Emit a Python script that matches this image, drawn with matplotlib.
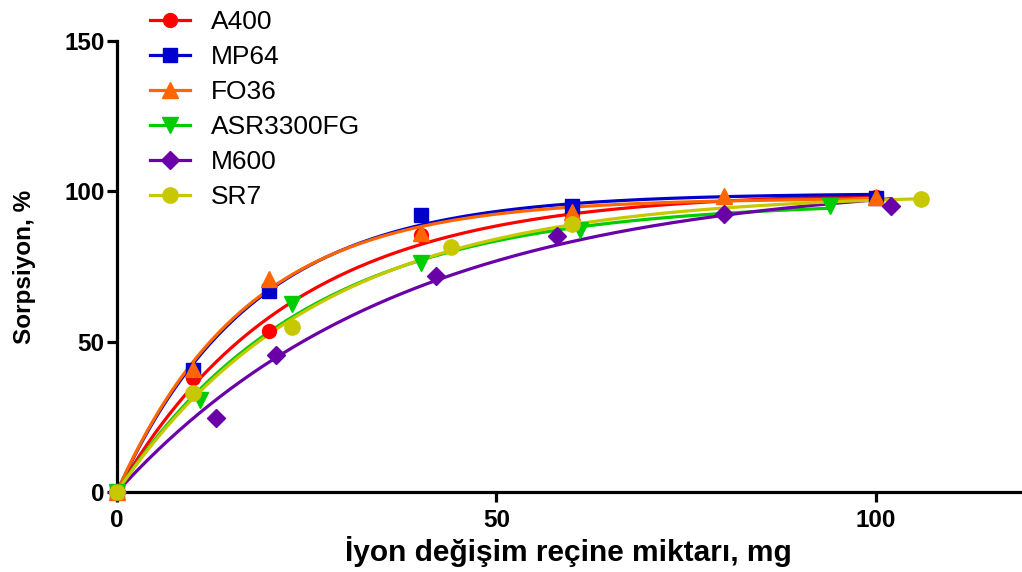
import numpy as np
import matplotlib
matplotlib.use("Agg")
import matplotlib.pyplot as plt

plt.rcParams['font.family'] = ['Liberation Sans', 'DejaVu Sans']

# data (resin amount mg, sorption %)
names = ["A400", "MP64", "FO36", "ASR3300FG", "M600", "SR7"]
x_a400 = [0, 10, 20, 40, 60, 100]
y_a400 = [0, 38, 53.5, 85.5, 92, 98]
x_mp64 = [0, 10, 20, 40, 60, 100]
y_mp64 = [0, 40.5, 67, 92, 95, 97.8]
x_fo36 = [0, 10, 20, 40, 60, 80, 100]
y_fo36 = [0, 41, 71, 86, 93, 98.4, 98]
x_asr = [0, 11, 23, 40, 61, 94]
y_asr = [0, 30.5, 62.5, 76, 87, 95]
x_m600 = [0, 13, 21, 42, 58, 80, 102]
y_m600 = [0, 24.6, 45.5, 72, 85, 92.5, 95]
x_sr7 = [0, 10, 23, 44, 60, 106]
y_sr7 = [0, 33, 55, 81.5, 89, 97.3]

xs = [x_a400, x_mp64, x_fo36, x_asr, x_m600, x_sr7]
ys = [y_a400, y_mp64, y_fo36, y_asr, y_m600, y_sr7]
colors = ["#FF0000", "#0000CC", "#FF6600", "#00CC00", "#6A00A8", "#C8C800"]
markers = ["o", "s", "^", "v", "D", "o"]
msizes = [10, 10, 11, 11, 9, 11]


def fit_exp(x, y):
    # one phase association y = ym*(1-exp(-k x)), grid search on k
    x = np.asarray(x, float); y = np.asarray(y, float)
    best = None
    for k in np.linspace(0.005, 0.2, 4000):
        f = 1 - np.exp(-k * x)
        ym = np.dot(f, y) / np.dot(f, f)
        err = np.sum((ym * f - y) ** 2)
        if best is None or err < best[0]:
            best = (err, k, ym)
    return best[1], best[2]


fig = plt.figure(figsize=(10.22, 5.72), dpi=100)
ax = fig.add_axes([117/1022, 1-492/572, (1020-117)/1022, (492-41)/572])

handles = []
for i in range(len(names)):
    k, ym = fit_exp(xs[i], ys[i])
    xx = np.linspace(0, max(xs[i]), 300)
    ax.plot(xx, ym*(1-np.exp(-k*xx)), color=colors[i], lw=2.3, zorder=2)
    ax.plot(xs[i], ys[i], ls="none", marker=markers[i], ms=msizes[i],
            color=colors[i], clip_on=False, zorder=3)
    h, = ax.plot([], [], color=colors[i], lw=2.3, marker=markers[i], ms=msizes[i])
    handles.append(h)

ax.set_xlim(0, 119)
ax.set_ylim(0, 150)
ax.set_xticks([0, 50, 100])
ax.set_yticks([0, 50, 100, 150])
for s in ["top", "right"]:
    ax.spines[s].set_visible(False)
for s in ["left", "bottom"]:
    ax.spines[s].set_linewidth(2.3)
ax.tick_params(width=2.3, length=7, direction="out", labelsize=17.5, pad=2)
ax.tick_params(axis="x", pad=5)
for lab in ax.get_xticklabels() + ax.get_yticklabels():
    lab.set_fontweight("bold")

ax.set_xlabel("İyon değişim reçine miktarı, mg", fontsize=21.5, fontweight="bold", labelpad=3)
ax.set_ylabel("Sorpsiyon, %", fontsize=17.5, fontweight="bold", labelpad=20)

leg = ax.legend(handles, names, loc="upper left", bbox_to_anchor=(150/1022, 1-10/572),
                bbox_transform=fig.transFigure, borderaxespad=0, borderpad=0,
                frameon=False, fontsize=19, handlelength=1.5, handletextpad=0.8,
                labelspacing=0.42)

fig.savefig("out.png", dpi=100)
